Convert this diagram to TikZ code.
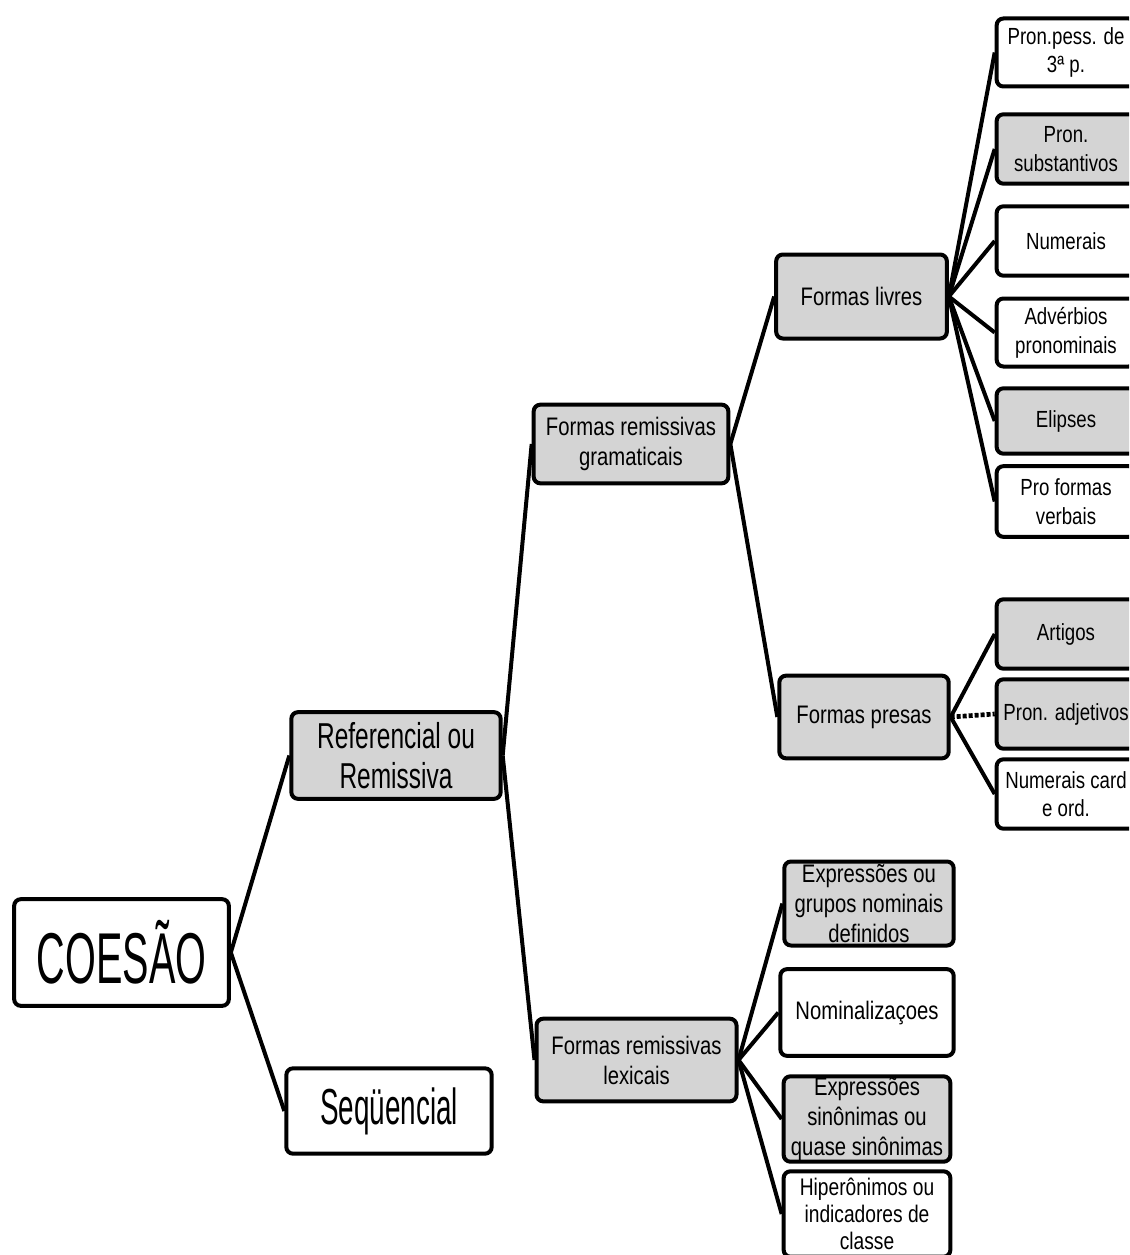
\documentclass[tikz,border=0pt]{standalone}
\usepackage{fontspec}
\setmainfont{Liberation Sans}[FakeStretch=0.8]
\newfontfamily\midfont{Liberation Sans}[FakeStretch=0.68]
\newfontfamily\narrowfont{Liberation Sans}[FakeStretch=0.55]

\tikzset{
  box/.style={draw, rounded corners=5pt, line width=3pt, align=center, inner sep=0.5pt,
    font=\fontsize{19}{22.5}\selectfont},
  shaded/.style={box, fill=black!17},
  plain/.style={box, fill=white},
  leaf/.style={minimum width=104pt, font=\fontsize{17.5}{21.5}\selectfont},
  link/.style={line width=3pt},
}

\begin{document}
\begin{tikzpicture}[x=0.75pt,y=0.75pt,yscale=-1,xscale=1]
\useasboundingbox (0,0) rectangle (1129,1255);
\clip (0,0) rectangle (1129,1255);

%Root
\node [plain, minimum width=161pt, minimum height=80pt, font=\narrowfont\fontsize{54}{60}\selectfont] (coesao) at (121.5,952.5) {COESÃO};

%Level one
\node [shaded, minimum width=157pt, minimum height=65pt, font=\midfont\fontsize{27}{30}\selectfont] (refer) at (396,755.5) {Referencial ou\\Remissiva};
\node [plain, minimum width=154pt, minimum height=64pt, font=\narrowfont\fontsize{38}{42}\selectfont] (sequen) at (389,1111) {Seqüencial};

%Level two
\node [shaded, minimum width=146pt, minimum height=59pt] (gramat) at (631,444) {Formas remissivas\\gramaticais};
\node [shaded, minimum width=150pt, minimum height=62pt] (lexic) at (636.5,1060) {Formas remissivas\\lexicais};

%Level three
\node [shaded, minimum width=128pt, minimum height=63pt] (livres) at (861.5,296.5) {Formas livres};
\node [shaded, minimum width=127pt, minimum height=62pt] (presas) at (864,717) {Formas presas};
\node [shaded, minimum width=127pt, minimum height=63pt] (exprnom) at (869,903.5) {Expressões ou\\grupos nominais\\definidos};
\node [plain, minimum width=130pt, minimum height=65pt] (nominal) at (867,1012.5) {Nominalizaçoes};
\node [shaded, minimum width=125pt, minimum height=64pt] (exprsin) at (867,1119) {Expressões\\sinônimas ou\\quase sinônimas};
\node [plain, minimum width=125pt, minimum height=64pt, font=\fontsize{18}{20}\selectfont] (hiper) at (867,1214) {Hiperônimos ou\\indicadores de\\classe};

%Right column
\node [plain, leaf, minimum height=51pt] (pronpess) at (1066,52.5) {Pron.pess. de\\3ª p.};
\node [shaded, leaf, minimum height=52pt] (pronsub) at (1066,149) {Pron.\\substantivos};
\node [plain, leaf, minimum height=52pt] (numer) at (1066,241) {Numerais};
\node [plain, leaf, minimum height=51pt] (adverb) at (1066,332.5) {Advérbios\\pronominais};
\node [shaded, leaf, minimum height=49pt] (elips) at (1066,421) {Elipses};
\node [plain, leaf, minimum height=53pt] (proform) at (1066,501.5) {Pro formas\\verbais};
\node [shaded, leaf, minimum height=52pt] (artig) at (1066,634) {Artigos};
\node [shaded, leaf, minimum height=52pt] (pronadj) at (1066,714) {Pron. adjetivos};
\node [plain, leaf, minimum height=52pt] (numcard) at (1066,794) {Numerais card\\e ord.};

%Connectors
\draw [link] (coesao.east) -- (refer.west);
\draw [link] (coesao.east) -- (sequen.west);
\draw [link] (refer.east) -- (gramat.west);
\draw [link] (refer.east) -- (lexic.west);
\draw [link] (gramat.east) -- (livres.west);
\draw [link] (gramat.east) -- (presas.west);
\foreach \kid in {pronpess,pronsub,numer,adverb,elips,proform}
  \draw [link] (livres.east) -- (\kid.west);
\draw [link] (presas.east) -- (artig.west);
\draw [link, dash pattern={on 3pt off 1.5pt}, line width=3.5pt] (presas.east) -- (pronadj.west);
\draw [link] (presas.east) -- (numcard.west);
\foreach \kid in {exprnom,nominal,exprsin,hiper}
  \draw [link] (lexic.east) -- (\kid.west);

\end{tikzpicture}
\end{document}
